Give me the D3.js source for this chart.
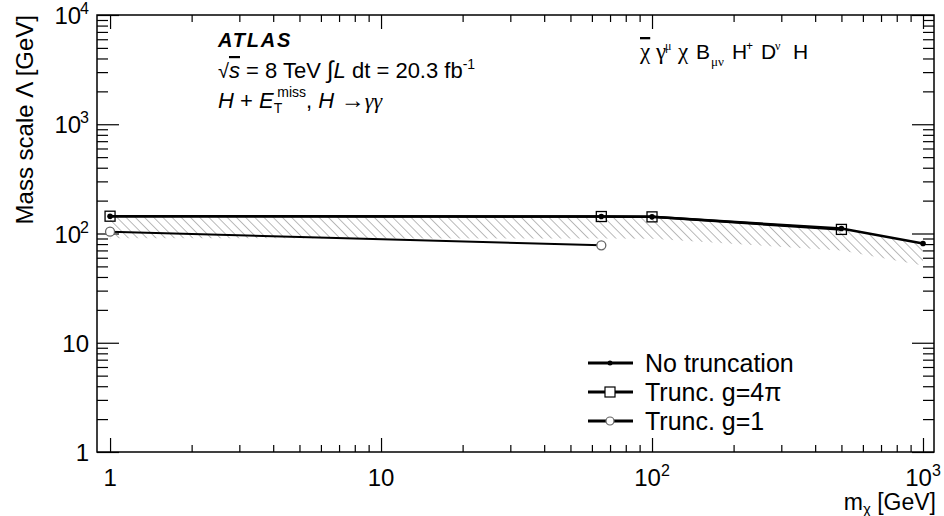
<!DOCTYPE html>
<html>
<head>
<meta charset="utf-8">
<script src="https://cdn.jsdelivr.net/npm/d3@7"></script>
<style>
  body { margin: 0; background: #fff; }
  text { font-family: "Liberation Sans", Arial, sans-serif; fill: #000; }
</style>
</head>
<body>
<div id="chart"></div>
<script>
// ----- DATA -----
const massNoTrunc = [1, 65, 100, 500, 1000];
const lambdaNoTrunc = [144, 143, 142, 111, 81];
const mass4pi = [1, 65, 100, 500];
const lambda4pi = [144, 143, 142, 109];
const massG1 = [1, 65];
const lambdaG1 = [104, 78];

const xMajor = [1, 10, 100, 1000];
const xLabels = [["1"], ["10"], ["10", "2"], ["10", "3"]];
const yMajor = [1, 10, 100, 1000, 10000];
const yLabels = [["1"], ["10"], ["10", "2"], ["10", "3"], ["10", "4"]];
const legendNames = ["No truncation", "Trunc. g=4\u03c0", "Trunc. g=1"];

// ----- LAYOUT -----
const W = 944, H = 516;
const pLeft = 97, pRight = 934, pTop = 15, pBottom = 452;

const svg = d3.select("#chart").append("svg")
    .attr("width", W).attr("height", H);

// x: 1 -> 110px, 1000 -> 923px
const x = d3.scaleLog().domain([0.895, 1098]).range([pLeft, pRight]);
const y = d3.scaleLog().domain([1, 10000]).range([pBottom, pTop]);

// minor ticks
const minorOf = (decades, max) => {
    const out = [];
    decades.forEach(d => { for (let k = 2; k <= 9; k++) if (d * k <= max) out.push(d * k); });
    return out;
};
const xMinor = minorOf([1, 10, 100], 1000);
const yMinor = minorOf([1, 10, 100, 1000], 10000);

// hatch pattern
const defs = svg.append("defs");
const pat = defs.append("pattern")
    .attr("id", "hatch").attr("patternUnits", "userSpaceOnUse")
    .attr("width", 6.5).attr("height", 6.5)
    .attr("patternTransform", "rotate(-45)");
pat.append("line").attr("x1", 0).attr("y1", 0).attr("x2", 0).attr("y2", 6.5)
    .attr("stroke", "#8c8c8c").attr("stroke-width", 1.2);

// ----- AXES (ROOT style: ticks inside on all four sides) -----
function tickAxis(axisFn, pos, vals, size) {
    svg.append("g")
        .attr("transform", pos)
        .call(axisFn.tickValues(vals).tickSize(-size).tickFormat(""))
        .call(g => g.select(".domain").remove())
        .call(g => g.selectAll("line").attr("stroke", "#000").attr("stroke-width", 1.2));
}
tickAxis(d3.axisBottom(x), `translate(0,${pBottom})`, xMajor, 14);
tickAxis(d3.axisBottom(x), `translate(0,${pBottom})`, xMinor, 7);
tickAxis(d3.axisTop(x), `translate(0,${pTop})`, xMajor, 14);
tickAxis(d3.axisTop(x), `translate(0,${pTop})`, xMinor, 7);
tickAxis(d3.axisLeft(y), `translate(${pLeft},0)`, yMajor, 22);
tickAxis(d3.axisLeft(y), `translate(${pLeft},0)`, yMinor, 11);
tickAxis(d3.axisRight(y), `translate(${pRight},0)`, yMajor, 22);
tickAxis(d3.axisRight(y), `translate(${pRight},0)`, yMinor, 11);

svg.append("rect")
    .attr("x", pLeft).attr("y", pTop)
    .attr("width", pRight - pLeft).attr("height", pBottom - pTop)
    .attr("fill", "none").attr("stroke", "#000").attr("stroke-width", 1.5);

// rich text helper: parts = [text, mode, extra]
function rich(parent, px, py, parts, size, anchor) {
    const t = parent.append("text").attr("x", px).attr("y", py)
        .attr("font-size", size).attr("text-anchor", anchor || "start");
    let shift = 0;
    parts.forEach(p => {
        const mode = p[1] || "n";
        const o = p[2] || {};
        let target = 0, fs = size;
        if (mode === "sup") { target = -size * 0.42; fs = size * 0.62; }
        if (mode === "sub") { target = size * 0.28; fs = size * 0.62; }
        if (o.shift !== undefined) target = o.shift;
        const ts = t.append("tspan").text(p[0])
            .attr("font-size", o.fs || fs)
            .attr("dy", target - shift);
        if (o.x !== undefined) ts.attr("x", o.x);
        if (o.dx) ts.attr("dx", o.dx);
        if (o.italic) ts.attr("font-style", "italic");
        if (o.bold) ts.attr("font-weight", "bold");
        if (o.family) ts.attr("font-family", o.family);
        if (o.over) ts.attr("text-decoration", "overline");
        shift = target;
    });
    return t;
}

// tick labels
xMajor.forEach((v, i) => {
    const lab = xLabels[i];
    const parts = [[lab[0]]];
    if (lab[1]) parts.push([lab[1], "sup", { shift: -10, fs: 16 }]);
    rich(svg, x(v), 486, parts, 24, "middle");
});
yMajor.forEach((v, i) => {
    const lab = yLabels[i];
    const parts = [[lab[0]]];
    if (lab[1]) parts.push([lab[1], "sup", { shift: -10, fs: 16, dx: -1 }]);
    rich(svg, 89, y(v) + 9, parts, 24, "end");
});

// axis titles
svg.append("text")
    .attr("transform", `translate(33,${pTop}) rotate(-90)`)
    .attr("text-anchor", "end").attr("font-size", 24)
    .text("Mass scale \u039b [GeV]");
rich(svg, 936, 510, [["m"], ["\u03c7", "sub", { shift: 4, fs: 15 }], [" [GeV]", "n", { shift: 0 }]], 23, "end");

// ----- MARKS -----
const ptsNo = massNoTrunc.map((m, i) => [m, lambdaNoTrunc[i]]);
const pts4 = mass4pi.map((m, i) => [m, lambda4pi[i]]);
const ptsG1 = massG1.map((m, i) => [m, lambdaG1[i]]);

const line = d3.line().x(d => x(d[0])).y(d => y(d[1]));

// hatched band hanging below the no-truncation limit
const band = 22;
const area = d3.area().x(d => x(d[0])).y0(d => y(d[1]) + band).y1(d => y(d[1]));
svg.append("path").datum(ptsNo).attr("d", area).attr("fill", "url(#hatch)");

svg.append("path").datum(ptsG1).attr("d", line)
    .attr("fill", "none").attr("stroke", "#000").attr("stroke-width", 2);
svg.append("path").datum(pts4).attr("d", line)
    .attr("fill", "none").attr("stroke", "#000").attr("stroke-width", 2.5);
svg.append("path").datum(ptsNo).attr("d", line)
    .attr("fill", "none").attr("stroke", "#000").attr("stroke-width", 2.5);

svg.selectAll(".sq").data(pts4).enter().append("rect")
    .attr("x", d => x(d[0]) - 5).attr("y", d => y(d[1]) - 5)
    .attr("width", 10).attr("height", 10)
    .attr("fill", "none").attr("stroke", "#000").attr("stroke-width", 1.3);
svg.selectAll(".dot").data(ptsNo).enter().append("circle")
    .attr("cx", d => x(d[0])).attr("cy", d => y(d[1])).attr("r", 2.8)
    .attr("fill", "#000");
svg.selectAll(".oc").data(ptsG1).enter().append("circle")
    .attr("cx", d => x(d[0])).attr("cy", d => y(d[1])).attr("r", 4.5)
    .attr("fill", "#fff").attr("stroke", "#666").attr("stroke-width", 1.3);

// ----- LEGEND -----
const legY = [363, 392, 421];
const lg = svg.append("g");
legendNames.forEach((name, i) => {
    lg.append("line").attr("x1", 588).attr("x2", 633)
        .attr("y1", legY[i]).attr("y2", legY[i])
        .attr("stroke", "#000").attr("stroke-width", 3);
    if (i === 0) lg.append("circle").attr("cx", 610).attr("cy", legY[i]).attr("r", 2.5).attr("fill", "#000");
    if (i === 1) lg.append("rect").attr("x", 605).attr("y", legY[i] - 5).attr("width", 10).attr("height", 10)
        .attr("fill", "#fff").attr("stroke", "#000").attr("stroke-width", 1.2);
    if (i === 2) lg.append("circle").attr("cx", 610).attr("cy", legY[i]).attr("r", 4)
        .attr("fill", "#fff").attr("stroke", "#666").attr("stroke-width", 1.2);
    lg.append("text").attr("x", 645).attr("y", legY[i] + 8.5)
        .attr("font-size", 25).text(name);
});

// ----- LABELS -----
svg.append("text").attr("x", 218).attr("y", 47)
    .attr("font-size", 20).attr("font-weight", "bold").attr("font-style", "italic")
    .attr("letter-spacing", 1.8).text("ATLAS");

rich(svg, 218, 78, [
    ["\u221a", "n", { fs: 20 }],
    ["s", "n", { italic: true, over: true }],
    [" = 8 TeV "],
    ["\u222b", "n", { fs: 24 }],
    ["L", "n", { italic: true }],
    [" dt = 20.3 fb"],
    ["-1", "sup", { shift: -9, fs: 14 }]
], 22);

rich(svg, 218, 108, [
    ["H", "n", { italic: true }],
    [" + "],
    ["E", "n", { italic: true }],
    ["T", "sub", { shift: 5, fs: 14 }],
    ["miss", "sup", { shift: -11, fs: 14, dx: -5 }],
    [", ", "n", { shift: 0 }],
    ["H", "n", { italic: true }],
    [" \u2192", "n", { fs: 24 }],
    ["\u03b3\u03b3", "n", { italic: true, family: "Liberation Serif" }]
], 22);

// operator: chi-bar gamma^mu chi B_mu-nu H^+ D^nu H
const serif = "Liberation Serif";
rich(svg, 640, 59, [
    ["\u03c7", "n", { family: serif, over: true, fs: 23 }],
    ["\u03b3", "n", { family: serif, x: 656, fs: 23 }],
    ["\u03bc", "sup", { shift: -9, fs: 12, family: serif, x: 665 }],
    ["\u03c7", "n", { shift: 0, family: serif, x: 678, fs: 23 }],
    ["B", "n", { x: 696, fs: 21 }],
    ["\u03bc\u03bd", "sub", { shift: 7, fs: 13, family: serif, x: 711 }],
    ["H", "n", { shift: 0, x: 732, fs: 21 }],
    ["+", "sup", { shift: -9, fs: 12, x: 746 }],
    ["D", "n", { shift: 0, x: 761, fs: 21 }],
    ["\u03bd", "sup", { shift: -9, fs: 12, family: serif, x: 775 }],
    ["H", "n", { shift: 0, x: 793, fs: 21 }]
], 20);
</script>
</body>
</html>
